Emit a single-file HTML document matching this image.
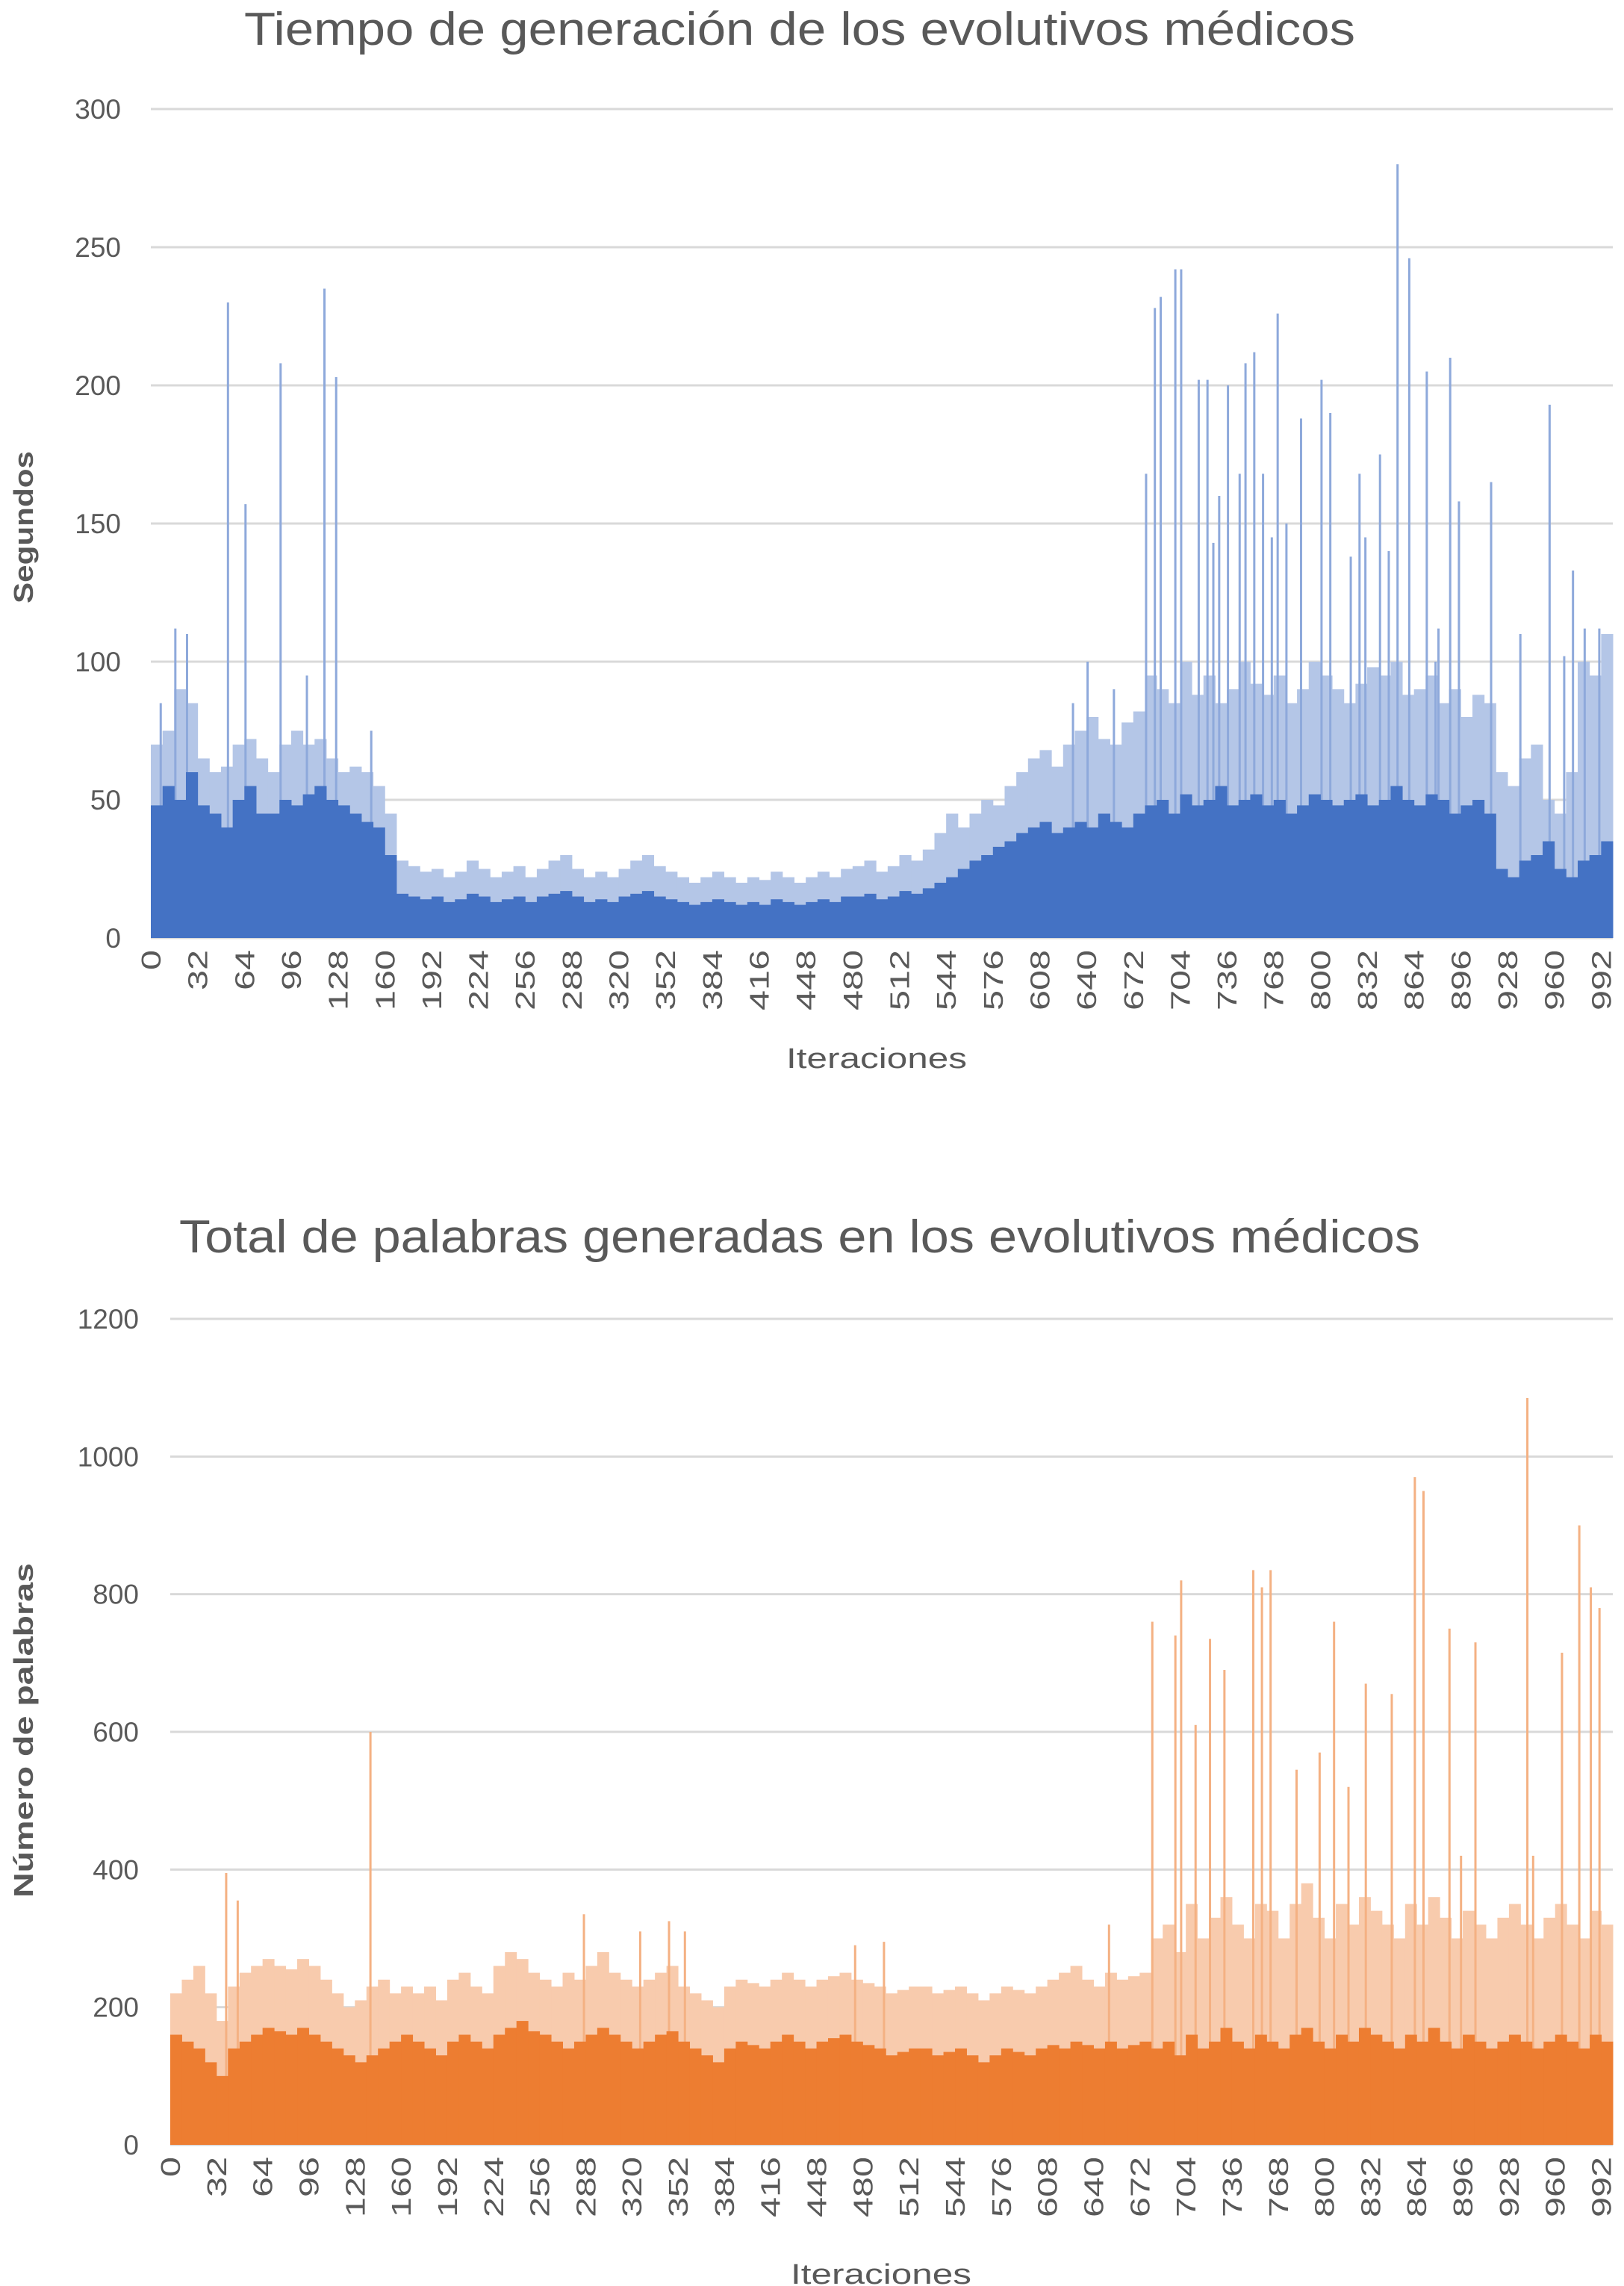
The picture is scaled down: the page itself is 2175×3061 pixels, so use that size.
<!DOCTYPE html>
<html><head><meta charset="utf-8"><style>
html,body{margin:0;padding:0;background:#fff}
svg{display:block}
text{font-family:"Liberation Sans",sans-serif;fill:#595959}
</style></head><body>
<svg id="svg" width="2175" height="3061" viewBox="0 0 2175 3061" xmlns="http://www.w3.org/2000/svg">
<g id="c1">
<text x="1071" y="60" text-anchor="middle" font-size="62" textLength="1488" lengthAdjust="spacingAndGlyphs">Tiempo de generación de los evolutivos médicos</text>
<text transform="translate(44,706) rotate(-90)" text-anchor="middle" font-size="36" font-weight="bold" textLength="204" lengthAdjust="spacingAndGlyphs">Segundos</text>
<text x="1174" y="1430" text-anchor="middle" font-size="38" textLength="242" lengthAdjust="spacingAndGlyphs">Iteraciones</text>
</g>
<g id="c2">
<text x="1071" y="1677" text-anchor="middle" font-size="62" textLength="1662" lengthAdjust="spacingAndGlyphs">Total de palabras generadas en los evolutivos médicos</text>
<text transform="translate(44,2317) rotate(-90)" text-anchor="middle" font-size="36" font-weight="bold" textLength="448" lengthAdjust="spacingAndGlyphs">Número de palabras</text>
<text x="1180" y="3058" text-anchor="middle" font-size="38" textLength="242" lengthAdjust="spacingAndGlyphs">Iteraciones</text>
</g>
</svg>
<script>
// ---- chart 1 data (seconds) : bins of 8 iterations ----
const c1Base=[48,55,50,60,48,45,40,50,55,45,45,50,48,52,55,50,48,45,42,40,30,
16,15,14,15,13,14,16,15,13,14,15,13,15,16,17,15,13,14,13,15,16,17,15,14,13,12,13,14,13,12,13,12,14,13,12,13,14,13,15,15,16,14,15,17,
16,18,20,22,25,28,30,33,35,38,
40,42,38,40,42,40,45,42,40,45,
48,50,45,52,48,50,55,48,50,52,48,50,45,48,52,50,48,50,52,48,50,55,50,48,52,50,45,48,50,45,
25,22,28,30,35,25,22,28,30,35];
const c1Upper=[70,75,90,85,65,60,62,70,72,65,60,70,75,70,72,65,60,62,60,55,45,
28,26,24,25,22,24,28,25,22,24,26,22,25,28,30,25,22,24,22,25,28,30,26,24,22,20,22,24,22,20,22,21,24,22,20,22,24,22,25,26,28,24,26,30,
28,32,38,45,40,45,50,48,55,60,
65,68,62,70,75,80,72,70,78,82,
95,90,85,100,88,95,85,90,100,92,88,95,85,90,100,95,90,85,92,98,95,100,88,90,95,85,90,80,88,85,
60,55,65,70,50,45,60,100,95,110];
const c1SpikeIdx=[6,16,24,52,64,88,106,118,126,150,630,640,658,680,686,690,700,704,716,722,726,730,736,744,748,754,760,766,770,776,786,800,806,820,826,830,840,846,852,860,872,878,880,888,894,916,936,956,966,972,980,990];
const c1SpikeVal=[85,112,110,230,157,208,95,235,203,75,85,100,90,168,228,232,242,242,202,202,143,160,200,168,208,212,168,145,226,150,188,202,190,138,168,145,175,140,280,246,205,100,112,210,158,165,110,193,102,133,112,112];
const c1Ticks=[0,50,100,150,200,250,300];
// ---- chart 2 data (words) ----
const c2Base=[160,150,140,120,100,140,150,160,170,165,160,170,160,150,140,130,120,130,140,150,160,
150,140,130,150,160,150,140,160,170,180,165,160,150,140,150,160,170,160,150,140,
150,160,165,150,140,130,120,140,150,145,140,150,160,150,140,150,155,160,150,145,140,130,135,140,
140,130,135,140,130,120,130,140,135,130,140,145,140,150,145,140,150,140,145,150,
140,150,130,160,140,150,170,150,140,160,150,140,160,170,150,140,160,150,170,160,150,140,160,150,170,150,140,160,150,140,150,160,150,140,150,160,150,140,160,150];
const c2Upper=[220,240,260,220,180,230,250,260,270,260,255,270,260,240,220,200,210,230,240,220,230,
220,230,210,240,250,230,220,260,280,270,250,240,230,250,240,260,280,250,240,230,
240,250,260,230,220,210,200,230,240,235,230,240,250,240,230,240,245,250,240,235,230,220,225,230,
230,220,225,230,220,210,220,230,225,220,230,240,250,260,240,230,250,240,245,250,
300,320,280,350,300,330,360,320,300,350,340,300,350,380,330,300,350,320,360,340,320,300,350,320,360,330,300,340,320,300,330,350,320,300,330,350,320,300,340,320];
const c2SpikeIdx=[38,46,138,286,325,345,356,474,494,650,680,696,700,710,720,730,750,756,762,780,796,806,816,828,846,862,868,886,894,904,940,944,964,976,984,990];
const c2SpikeVal=[395,355,600,335,310,325,310,290,295,320,760,740,820,610,735,690,835,810,835,545,570,760,520,670,655,970,950,750,420,730,1085,420,715,900,810,780];
const c2Ticks=[0,200,400,600,800,1000,1200];
const xTicks=[];for(let t=0;t<=992;t+=32)xTicks.push(t);

const NS='http://www.w3.org/2000/svg';
function mk(tag,attrs,parent){const e=document.createElementNS(NS,tag);for(const k in attrs)e.setAttribute(k,attrs[k]);parent.appendChild(e);return e;}

function draw(cfg){
  const g=document.getElementById(cfg.id);
  const x=i=>cfg.x0+i*(cfg.x1-cfg.x0)/1000;
  const y=v=>cfg.y0-v*(cfg.y0-cfg.yTop)/cfg.max;
  cfg.ticks.forEach(t=>{
    const l=mk('line',{x1:cfg.x0,x2:cfg.x1,y1:y(t),y2:y(t),stroke:'#d9d9d9','stroke-width':3},g);
    
    
    const tx=mk('text',{x:cfg.labelX,y:y(t)+13,'text-anchor':'end','font-size':37},g);
    tx.textContent=t;
    
    
  });
  cfg.upper.forEach((v,b)=>{
    const r=mk('rect',{x:x(b*8),y:y(v),width:x(8)-x(0)+0.5,height:cfg.y0-y(v),fill:cfg.light},g);
    
    
  });
  cfg.spIdx.forEach((i,k)=>{
    const v=cfg.spVal[k];
    const r=mk('rect',{x:x(i),y:y(v),width:3,height:cfg.y0-y(v),fill:cfg.mid},g);
    
    
  });
  cfg.base.forEach((v,b)=>{
    const r=mk('rect',{x:x(b*8),y:y(v),width:x(8)-x(0)+0.5,height:cfg.y0-y(v),fill:cfg.dark},g);
    
    
  });
  xTicks.forEach(t=>{
    const tx=mk('text',{transform:'translate('+(x(t)+13)+','+cfg.xLabY+') rotate(-90) scale(1.35,1)','text-anchor':'end','font-size':36},g);
    tx.textContent=t;
    
    
  });
}
draw({id:'c1',x0:202,x1:2160,y0:1256,yTop:146,max:300,ticks:c1Ticks,labelX:162,xLabY:1272,
  base:c1Base,upper:c1Upper,spIdx:c1SpikeIdx,spVal:c1SpikeVal,dark:'#4472C4',light:'#B4C6E7',mid:'#8EA9DB'});
draw({id:'c2',x0:228,x1:2160,y0:2872,yTop:1766,max:1200,ticks:c2Ticks,labelX:186,xLabY:2888,
  base:c2Base,upper:c2Upper,spIdx:c2SpikeIdx,spVal:c2SpikeVal,dark:'#ED7D31',light:'#F8CBAD',mid:'#F4B183'});
</script>
</body></html>
